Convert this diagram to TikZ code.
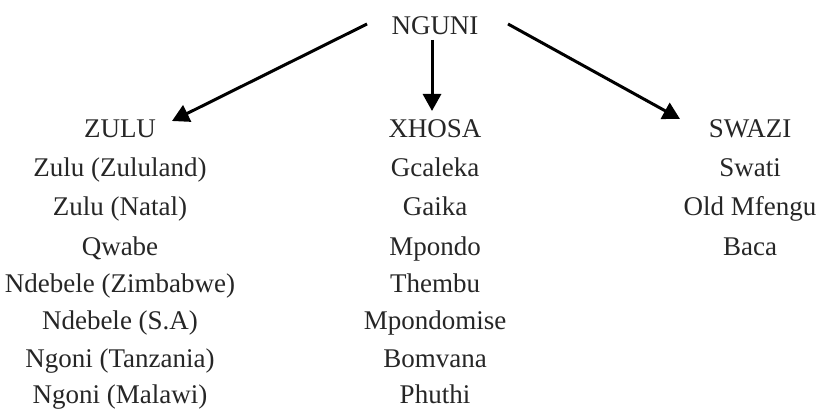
\documentclass[tikz,border=0pt]{standalone}
\usepackage{fontspec}
\setmainfont{Liberation Serif}
\usetikzlibrary{arrows.meta}
\begin{document}
\begin{tikzpicture}[x=1pt,y=-1pt,
  lbl/.style={anchor=base,inner sep=0pt,font=\fontsize{27}{31}\selectfont,text=black!85},
  arr/.style={line width=3pt,-{Triangle[length=17pt,width=18pt]}}]
\useasboundingbox (0,0) rectangle (816,411);
\node[lbl] (nguni) at (435,35) {NGUNI};
% columns
\node[lbl] (zulu) at (120,138) {ZULU};
\node[lbl] (z1) at (120,177) {Zulu (Zululand)};
\node[lbl] (z2) at (120,216) {Zulu (Natal)};
\node[lbl] (z3) at (120,256) {Qwabe};
\node[lbl] (z4) at (120,293) {Ndebele (Zimbabwe)};
\node[lbl] (z5) at (120,330) {Ndebele (S.A)};
\node[lbl] (z6) at (120,367) {Ngoni (Tanzania)};
\node[lbl] (z7) at (120,403) {Ngoni (Malawi)};
\node[lbl] (xhosa) at (435,138) {XHOSA};
\node[lbl] (x1) at (435,177) {Gcaleka};
\node[lbl] (x2) at (435,216) {Gaika};
\node[lbl] (x3) at (435,256) {Mpondo};
\node[lbl] (x4) at (435,293) {Thembu};
\node[lbl] (x5) at (435,330) {Mpondomise};
\node[lbl] (x6) at (435,367) {Bomvana};
\node[lbl] (x7) at (435,403) {Phuthi};
\node[lbl] (swazi) at (750,138) {SWAZI};
\node[lbl] (s1) at (750,177) {Swati};
\node[lbl] (s2) at (750,216) {Old Mfengu};
\node[lbl] (s3) at (750,256) {Baca};
% arrow ends
\coordinate (la) at (367,24);
\coordinate (lb) at (172,121);
\coordinate (ma) at (432,40);
\coordinate (mb) at (432,111);
\coordinate (ra) at (508,24);
\coordinate (rb) at (680,119);
\draw[arr] (la) -- (lb);
\draw[arr] (ma) -- (mb);
\draw[arr] (ra) -- (rb);
\end{tikzpicture}
\end{document}
